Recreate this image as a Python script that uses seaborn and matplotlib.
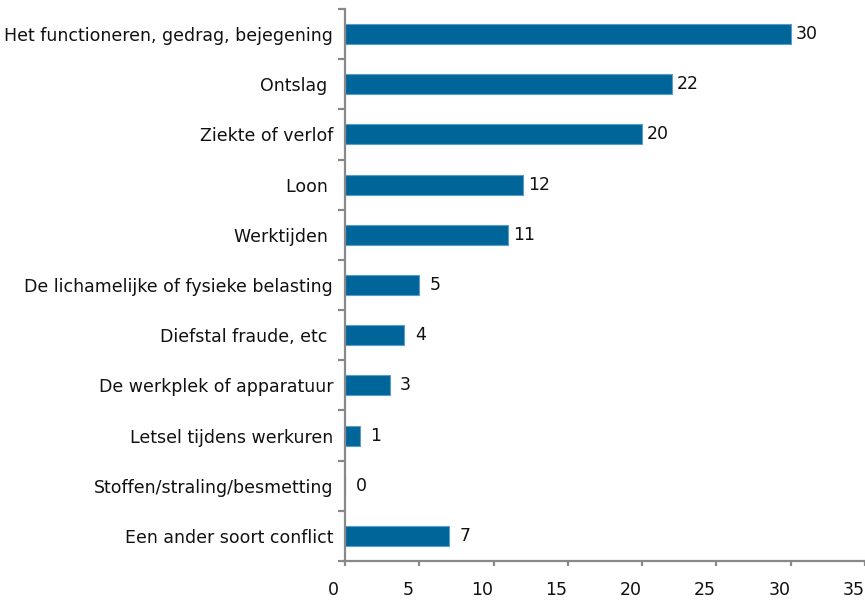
import numpy as np
import pandas as pd
import matplotlib
matplotlib.use("Agg")
import matplotlib.pyplot as plt
import seaborn as sns
from matplotlib.transforms import ScaledTranslation

categories = [
    "Het functioneren, gedrag, bejegening",
    "Ontslag ",
    "Ziekte of verlof",
    "Loon ",
    "Werktijden ",
    "De lichamelijke of fysieke belasting",
    "Diefstal fraude, etc ",
    "De werkplek of apparatuur",
    "Letsel tijdens werkuren",
    "Stoffen/straling/besmetting",
    "Een ander soort conflict",
]
values = [30, 22, 20, 12, 11, 5, 4, 3, 1, 0, 7]
value_labels = ["30", "22", "20", "12", "11", "5", "4", "3", "1", "0", "7"]
x_ticks = [0, 5, 10, 15, 20, 25, 30, 35]

sns.set_theme(style="ticks")
plt.rcParams["font.family"] = ["DejaVu Sans"]

AXIS_GREY = "#898989"
BAR_COLOR = "#006699"
TEXT_COLOR = "#111111"
FS = 12.5

fig = plt.figure(figsize=(8.65, 6.04), dpi=100)
ax = fig.add_axes([345 / 865, 43 / 604, 1 - 345 / 865, (561 - 9) / 604])

df = pd.DataFrame({"cat": categories, "val": values})
sns.barplot(data=df, x="val", y="cat", orient="h", color=BAR_COLOR,
            saturation=1, width=0.4, edgecolor="#5b9cc8", linewidth=0.8, ax=ax)

for patch, lab in zip(ax.patches, value_labels):
    ax.annotate(lab, xy=(patch.get_width(), patch.get_y() + patch.get_height() / 2),
                xytext=(16, 0), textcoords="offset pixels", ha="center", va="center",
                fontsize=FS, color=TEXT_COLOR)

ax.set_xlim(0, 35)
ax.set_xticks(x_ticks)
ax.set_xticklabels([str(t) for t in x_ticks])
ax.set_ylim(len(categories) - 0.5, -0.5)
ax.set_yticks(np.arange(-0.5, len(categories), 1), minor=True)

ax.set_xlabel("")
ax.set_ylabel("")

for side in ["top", "right"]:
    ax.spines[side].set_visible(False)
for side in ["left", "bottom"]:
    ax.spines[side].set_color(AXIS_GREY)
    ax.spines[side].set_linewidth(1.6)
    ax.spines[side].set_clip_on(False)

ax.tick_params(axis="y", which="major", length=0, pad=8.6, labelsize=FS, labelcolor=TEXT_COLOR)
ax.tick_params(axis="y", which="minor", length=5, width=1.6, color=AXIS_GREY, direction="out")
ax.tick_params(axis="x", which="major", length=3.6, width=1.6, color=AXIS_GREY, direction="out",
               pad=11, labelsize=FS, labelcolor=TEXT_COLOR)

offset = ScaledTranslation(-11.5 / 100, 0, fig.dpi_scale_trans)
for lab in ax.get_xticklabels():
    lab.set_transform(lab.get_transform() + offset)

fig.savefig("out.png", dpi=100)
